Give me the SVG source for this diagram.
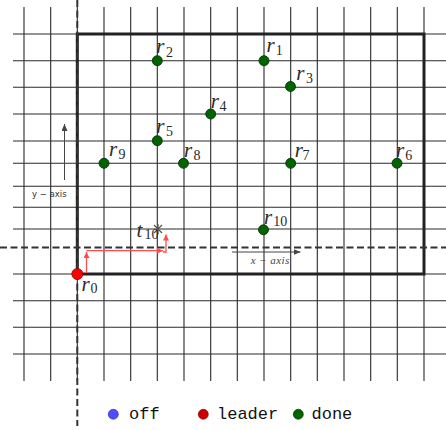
<svg xmlns="http://www.w3.org/2000/svg" width="446" height="430" viewBox="0 0 446 430">
<style>
.grid{stroke:#2a2a2a;stroke-width:1.1;fill:none}
.border{stroke:#222;stroke-width:3;fill:none}
.dash{stroke:#333;stroke-width:2;stroke-dasharray:7 3.5;fill:none}
.done{fill:#006400;stroke:#002800;stroke-width:0.8}
.lbl{font-family:"Liberation Serif",serif;font-style:italic;font-size:21px;fill:#2a2a2a}
.sub{font-family:"Liberation Serif",serif;font-size:14px;fill:#2a2a2a}
.red{stroke:#ff4d4d;stroke-width:1.3;fill:none}
.axis{stroke:#444;stroke-width:1;fill:none}
.leg{font-family:"Liberation Mono",monospace;font-size:17px;fill:#111}
</style>
<defs>
<marker id="ra" markerWidth="8" markerHeight="8" refX="6" refY="3" orient="auto" markerUnits="userSpaceOnUse">
<path d="M0,0 L6,3 L0,6 Z" fill="#ff4d4d"/>
</marker>
<marker id="ga" markerWidth="9" markerHeight="8" refX="7" refY="3" orient="auto" markerUnits="userSpaceOnUse">
<path d="M0,0 L7,3 L0,6 Z" fill="#444"/>
</marker>
</defs>
<rect width="446" height="430" fill="#fff"/>
<g id="grid">
<path class="grid" d="M24,7V381 M50.7,7V381 M77.3,7V381 M104,7V381 M130.7,7V381 M157.3,7V381 M184,7V381 M210.7,7V381 M237.3,7V381 M264,7V381 M290.7,7V381 M317.3,7V381 M344,7V381 M370.7,7V381 M397.3,7V381 M424,7V381"/>
<path class="grid" d="M13,34H446 M13,60.7H446 M13,87.3H446 M13,114H446 M13,141H446 M13,163.3H446 M13,186.3H446 M13,207.3H446 M13,229H446 M13,274H446 M13,300.7H446 M13,327.3H446 M13,354H446"/>
<rect class="border" x="77.3" y="34" width="346.7" height="240"/>
<path class="dash" d="M77.3,0V426"/>
<path class="dash" d="M0,247.5H446"/>
</g>
<g id="connectors">
<path class="red" d="M86.5,273V252" marker-end="url(#ra)"/>
<path class="red" d="M86.5,250.7H163" marker-end="url(#ra)"/>
<path class="red" d="M163,252H166V234.5" marker-end="url(#ra)"/>
<path class="axis" d="M64.5,180V124" marker-end="url(#ga)"/>
<path class="axis" d="M232,252H300.5" marker-end="url(#ga)"/>
</g>
<g id="y-axis-label"><text x="32" y="197" font-family="DejaVu Sans,sans-serif" font-size="8.5" fill="#333">y − axis</text></g>
<g id="x-axis-label"><text x="250.7" y="264" font-family="Liberation Serif,serif" font-style="italic" font-size="11" fill="#444" textLength="38.6">x − axis</text></g>
<g id="r0"><circle cx="77.3" cy="274" r="5.5" fill="#ff0000" stroke="#990000" stroke-width="0.8"/><text class="lbl" x="81.5" y="290.7">r</text><text class="sub" x="90.5" y="292.5">0</text></g>
<g id="r1"><circle class="done" cx="264" cy="60.7" r="5"/><text class="lbl" x="266.5" y="52">r</text><text class="sub" x="275.7" y="55">1</text></g>
<g id="r2"><circle class="done" cx="157.3" cy="60.7" r="5"/><text class="lbl" x="156.3" y="53.3">r</text><text class="sub" x="166" y="56.7">2</text></g>
<g id="r3"><circle class="done" cx="290.5" cy="86.5" r="5"/><text class="lbl" x="296.3" y="80">r</text><text class="sub" x="306" y="82.5">3</text></g>
<g id="r4"><circle class="done" cx="210.7" cy="114" r="5"/><text class="lbl" x="210.7" y="107.7">r</text><text class="sub" x="219.5" y="111">4</text></g>
<g id="r5"><circle class="done" cx="157.3" cy="140.7" r="5"/><text class="lbl" x="156.3" y="132.7">r</text><text class="sub" x="166" y="136">5</text></g>
<g id="r6"><circle class="done" cx="397" cy="163.3" r="5"/><text class="lbl" x="396" y="156.7">r</text><text class="sub" x="405.3" y="159.5">6</text></g>
<g id="r7"><circle class="done" cx="290.7" cy="163.3" r="5"/><text class="lbl" x="294.7" y="157.3">r</text><text class="sub" x="302.5" y="160">7</text></g>
<g id="r8"><circle class="done" cx="183.5" cy="163.3" r="5"/><text class="lbl" x="184" y="157.3">r</text><text class="sub" x="193.5" y="160">8</text></g>
<g id="r9"><circle class="done" cx="104" cy="163.3" r="5"/><text class="lbl" x="109" y="156">r</text><text class="sub" x="118.5" y="159.3">9</text></g>
<g id="r10"><circle class="done" cx="263.5" cy="229.8" r="5"/><text class="lbl" x="264" y="224.3">r</text><text class="sub" x="273.3" y="225.5">10</text></g>
<g id="t10"><path d="M154,225L162,233M154,233L162,225M158,224V234" stroke="#555" stroke-width="1.2" fill="none"/><text class="lbl" x="136.5" y="236.7">t</text><text class="sub" x="144.5" y="239.3">10</text></g>
<g id="legend">
<circle cx="113.3" cy="414.3" r="5" fill="#4d4dff" stroke="#2222aa" stroke-width="0.6"/><text class="leg" x="129" y="418.5">off</text>
<circle cx="203.3" cy="414.3" r="5" fill="#cc0000" stroke="#660000" stroke-width="0.6"/><text class="leg" x="217" y="418.5">leader</text>
<circle cx="298.3" cy="414.3" r="5" fill="#006400" stroke="#002800" stroke-width="0.6"/><text class="leg" x="311.5" y="418.5">done</text>
</g>
</svg>
